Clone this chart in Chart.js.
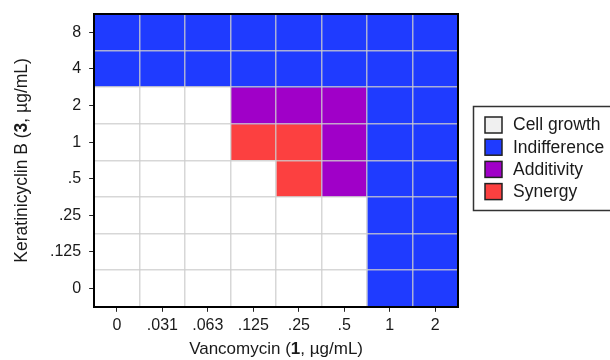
<!DOCTYPE html>
<html>
<head>
<meta charset="utf-8">
<script src="https://cdn.jsdelivr.net/npm/chart.js"></script>
<style>
  body { margin: 0; background: #fff; }
  #wrap { width: 610px; height: 360px; position: relative; }
</style>
</head>
<body>
<div id="wrap"><canvas id="checkerboard"></canvas></div>
<script>
// Checkerboard assay: Vancomycin (x) vs Keratinicyclin B (y)
const xLabels = ['0', '.031', '.063', '.125', '.25', '.5', '1', '2'];
const yLabels = ['0', '.125', '.25', '.5', '1', '2', '4', '8'];

const outcomes = ['Cell growth', 'Indifference', 'Additivity', 'Synergy'];
const outcomeCodes = ['C', 'I', 'A', 'S'];

// one row per y concentration, columns follow xLabels
const rows = {
    '8':    ['I', 'I', 'I', 'I', 'I', 'I', 'I', 'I'],
    '4':    ['I', 'I', 'I', 'I', 'I', 'I', 'I', 'I'],
    '2':    ['C', 'C', 'C', 'A', 'A', 'A', 'I', 'I'],
    '1':    ['C', 'C', 'C', 'S', 'S', 'A', 'I', 'I'],
    '.5':   ['C', 'C', 'C', 'C', 'S', 'A', 'I', 'I'],
    '.25':  ['C', 'C', 'C', 'C', 'C', 'C', 'I', 'I'],
    '.125': ['C', 'C', 'C', 'C', 'C', 'C', 'I', 'I'],
    '0':    ['C', 'C', 'C', 'C', 'C', 'C', 'I', 'I']
};

const cellColors = ['#ffffff', '#1f3bff', '#a000c8', '#fc4040'];
const swatchColors = ['#f0f0f0', '#1f3bff', '#a000c8', '#fc4040'];

Chart.defaults.font.family = '"Liberation Sans", Arial, sans-serif';
Chart.defaults.color = '#1a1a1a';

// each cell is a floating bar one unit tall around its row index
const datasets = outcomes.map((name, k) => {
    const pts = [];
    yLabels.forEach((yl, yi) => {
        rows[yl].forEach((code, xi) => {
            if (code === outcomeCodes[k]) {
                pts.push({ x: xLabels[xi], y: [yi - 0.5, yi + 0.5] });
            }
        });
    });
    return {
        label: name,
        data: pts,
        backgroundColor: cellColors[k],
        borderWidth: 0,
        grouped: false,
        barPercentage: 1,
        categoryPercentage: 1
    };
});

// grid lines sit between the cells
const gridLines = (n) => (scale) => {
    scale.ticks = [];
    for (let i = 0; i < n - 1; i++) scale.ticks.push({ value: i + 0.5 });
};

// labels sit at cell centres, so no extra room is needed at the ends
const noEdgePadding = (scale) => {
    scale.paddingTop = 0;
    scale.paddingBottom = 0;
    scale.paddingLeft = 0;
    scale.paddingRight = 0;
};

function drawMixed(ctx, parts, size) {
    const widths = parts.map(p => {
        ctx.font = (p[1] ? 'bold ' : '') + size + 'px "Liberation Sans", Arial, sans-serif';
        return ctx.measureText(p[0]).width;
    });
    const total = widths.reduce((a, b) => a + b, 0);
    let x = -total / 2;
    parts.forEach((p, i) => {
        ctx.font = (p[1] ? 'bold ' : '') + size + 'px "Liberation Sans", Arial, sans-serif';
        ctx.fillText(p[0], x, 0);
        x += widths[i];
    });
}

const extras = {
    id: 'extras',
    afterDraw(chart) {
        const ctx = chart.ctx;
        const a = chart.chartArea;
        ctx.save();
        ctx.fillStyle = '#1a1a1a';
        ctx.textAlign = 'left';
        ctx.textBaseline = 'middle';

        // axis titles with bold compound numbers
        ctx.save();
        ctx.translate((a.left + a.right) / 2, 349);
        drawMixed(ctx, [['Vancomycin (', false], ['1', true], [', \u00b5g/mL)', false]], 17);
        ctx.restore();

        ctx.save();
        ctx.translate(22, (a.top + a.bottom) / 2);
        ctx.rotate(-Math.PI / 2);
        drawMixed(ctx, [['Keratinicyclin B (', false], ['3', true], [', \u00b5g/mL)', false]], 17.5);
        ctx.restore();

        // legend box
        const lx = a.right + 15;
        const ly = 106;
        ctx.strokeStyle = '#333';
        ctx.lineWidth = 1.5;
        ctx.strokeRect(lx + 0.5, ly + 0.5, 200, 104);
        ctx.font = '17.5px "Liberation Sans", Arial, sans-serif';
        outcomes.forEach((name, i) => {
            const by = ly + 11 + i * 22.2;
            ctx.fillStyle = swatchColors[i];
            ctx.fillRect(lx + 12, by, 17, 16);
            ctx.strokeStyle = '#222';
            ctx.lineWidth = 1.5;
            ctx.strokeRect(lx + 12, by, 17, 16);
            ctx.fillStyle = '#1a1a1a';
            ctx.fillText(name, lx + 40, by + 8.5);
        });
        ctx.restore();
    }
};

new Chart(document.getElementById('checkerboard'), {
    type: 'bar',
    data: { labels: xLabels, datasets: datasets },
    options: {
        responsive: true,
        maintainAspectRatio: false,
        animation: false,
        layout: { autoPadding: false, padding: { left: 42, right: 152, top: 14, bottom: 21 } },
        plugins: { legend: { display: false }, tooltip: { enabled: false } },
        scales: {
            x: {
                type: 'category',
                offset: true,
                afterFit: noEdgePadding,
                grid: { drawOnChartArea: false, offset: false, tickLength: 5, tickColor: '#222', tickWidth: 1, z: 1 },
                border: { color: '#000', width: 2, z: 2 },
                ticks: { font: { size: 16 }, padding: 4, color: '#1a1a1a', maxRotation: 0, autoSkip: false }
            },
            x2: {
                type: 'linear',
                position: 'top',
                min: -0.5,
                max: 7.5,
                offset: false,
                afterBuildTicks: gridLines(xLabels.length),
                afterFit: (s) => { noEdgePadding(s); s.height = 0; },
                grid: { color: 'rgba(205,205,205,0.8)', lineWidth: 1.5, drawTicks: false, offset: false, z: 1 },
                border: { color: '#000', width: 2, z: 2 },
                ticks: { display: false }
            },
            y: {
                type: 'linear',
                min: -0.5,
                max: 7.5,
                afterBuildTicks: (scale) => { scale.ticks = yLabels.map((_, i) => ({ value: i })); },
                afterFit: noEdgePadding,
                grid: { drawOnChartArea: false, tickLength: 5, tickColor: '#222', tickWidth: 1, z: 1 },
                border: { color: '#000', width: 2, z: 2 },
                ticks: { font: { size: 16 }, padding: 8, color: '#1a1a1a', callback: (v) => yLabels[v] }
            },
            y2: {
                type: 'linear',
                position: 'right',
                min: -0.5,
                max: 7.5,
                afterBuildTicks: gridLines(yLabels.length),
                afterFit: (s) => { noEdgePadding(s); s.width = 0; },
                grid: { color: 'rgba(205,205,205,0.8)', lineWidth: 1.5, drawTicks: false, z: 1 },
                border: { color: '#000', width: 2, z: 2 },
                ticks: { display: false }
            }
        }
    },
    plugins: [extras]
});
</script>
</body>
</html>
